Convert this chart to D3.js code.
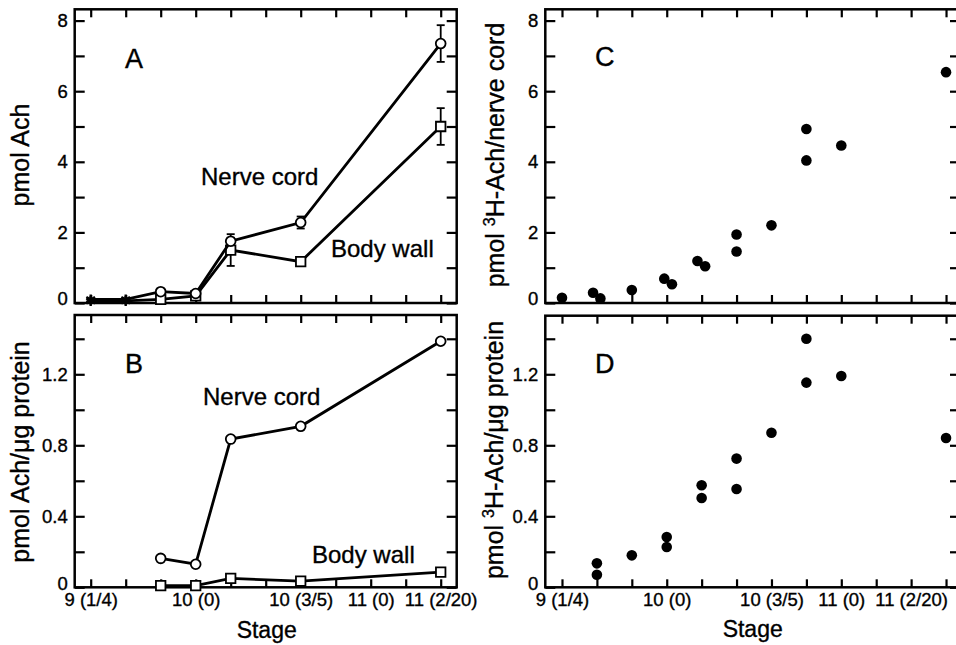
<!DOCTYPE html>
<html>
<head>
<meta charset="utf-8">
<script src="https://cdn.jsdelivr.net/npm/d3@7"></script>
<style>
  body { margin: 0; background: #fff; }
  text { font-family: "Liberation Sans", Arial, Helvetica, sans-serif; fill: #000; stroke: #000; stroke-width: 0.35px; }
</style>
</head>
<body>
<script>
// stage tick labels (tick index -> label)
const stageTickIdx = [0, 3, 6, 8, 10];
const stageTickText = ['9 (1/4)', '10 (0)', '10 (3/5)', '11 (0)', '11 (2/20)'];

// Panel A: pmol Ach (mean, error)
const stageA = [0, 1, 2, 3, 4, 6, 10];
const nerveA = [0.1, 0.1, 0.32, 0.27, 1.75, 2.28, 7.35];
const nerveAErr = [0, 0, 0, 0, 0.1, 0.17, 0.52];
const bodyA = [0.06, 0.06, 0.1, 0.2, 1.5, 1.17, 5.0];
const bodyAErr = [0, 0, 0, 0, 0.45, 0.08, 0.52];
const starCount = 2; // first two points drawn as asterisks

// Panel B: pmol Ach / ug protein
const stageB = [2, 3, 4, 6, 10];
const nerveB = [0.163, 0.13, 0.835, 0.907, 1.386];
const bodyB = [0.009, 0.009, 0.05, 0.035, 0.086];

// Panel C: pmol 3H-Ach / nerve cord
const stageC = [0, 0.89, 1.1, 2, 2.93, 3.15, 3.88, 4.1, 5, 5, 6, 7, 7, 8, 11];
const valC = [0.15, 0.29, 0.13, 0.37, 0.69, 0.53, 1.19, 1.04, 1.94, 1.46, 2.2, 4.93, 4.04, 4.46, 6.54];

// Panel D: pmol 3H-Ach / ug protein
const stageD = [1, 1, 2, 3, 3, 4, 4, 5, 5, 6, 7, 7, 8, 11];
const valD = [0.135, 0.071, 0.18, 0.283, 0.227, 0.575, 0.503, 0.725, 0.554, 0.871, 1.40, 1.153, 1.19, 0.841];

const svg = d3.select('body').append('svg')
    .attr('width', 956)
    .attr('height', 645);

// scales
const xLeft = d3.scaleLinear().domain([-0.457, 10.457]).range([74.7, 456.7]);
const xRight = d3.scaleLinear().domain([-0.478, 11.4]).range([545.3, 960]);
const yA = d3.scaleLinear().domain([0, 8.32]).range([303, 9.3]);
const yB = d3.scaleLinear().domain([0, 1.534]).range([587.3, 315]);
const yC = d3.scaleLinear().domain([0, 8.32]).range([303, 9.3]);
const yD = d3.scaleLinear().domain([0, 1.53]).range([587.3, 315.7]);

function frame(x, y, xTicks, yTicks, yFmt, showX) {
    const [x0, x1] = x.range();
    const [y0, y1] = y.range();
    const g = svg.append('g');

    g.append('g')
        .attr('transform', `translate(0,${y0})`)
        .call(d3.axisBottom(x).tickValues(xTicks).tickSizeInner(-8).tickSizeOuter(0).tickPadding(6)
            .tickFormat(i => {
                const k = stageTickIdx.indexOf(i);
                return showX && k >= 0 ? stageTickText[k] : '';
            }));
    g.append('g')
        .attr('transform', `translate(0,${y1})`)
        .call(d3.axisTop(x).tickValues(xTicks).tickSizeInner(-8).tickSizeOuter(0).tickFormat(''));
    const ya = g.append('g')
        .attr('transform', `translate(${x0},0)`)
        .call(d3.axisLeft(y).tickValues(yTicks).tickSizeInner(-10).tickSizeOuter(0).tickPadding(7)
            .tickFormat(yFmt));
    // the "0" label sits a little above the axis line, as in the original
    ya.selectAll('.tick text').filter(d => d === 0).attr('y', -4);
    g.append('g')
        .attr('transform', `translate(${x1},0)`)
        .call(d3.axisRight(y).tickValues(yTicks).tickSizeInner(-10).tickSizeOuter(0).tickFormat(''));

    g.selectAll('.domain').remove();
    g.selectAll('.tick line').attr('stroke', '#000').attr('stroke-width', 2.2);
    g.selectAll('.tick text')
        .style('font-size', '18.5px');

    g.append('rect')
        .attr('x', x0).attr('y', y1)
        .attr('width', x1 - x0).attr('height', y0 - y1)
        .attr('fill', 'none').attr('stroke', '#000').attr('stroke-width', 2.5);
    return g;
}

const fmtAch = v => (v % 2 === 0 ? d3.format('d')(v) : '');
const fmtProt = v => ([0, 0.4, 0.8, 1.2].some(t => Math.abs(t - v) < 1e-6) ? (v === 0 ? '0' : d3.format('.1f')(v)) : '');

frame(xLeft, yA, d3.range(0, 11), d3.range(0, 9), fmtAch, false);
frame(xLeft, yB, d3.range(0, 11), [0, 0.2, 0.4, 0.6, 0.8, 1.0, 1.2, 1.4], fmtProt, true);
frame(xRight, yC, d3.range(0, 12), d3.range(0, 9), fmtAch, false);
frame(xRight, yD, d3.range(0, 12), [0, 0.2, 0.4, 0.6, 0.8, 1.0, 1.2, 1.4], fmtProt, true);

// line series with markers
function series(x, y, xs, vs, errs, shape, stars) {
    const pts = xs.map((s, i) => ({ s, v: vs[i], e: errs ? errs[i] : 0, star: i < stars }));
    const g = svg.append('g');
    g.append('path')
        .datum(pts)
        .attr('fill', 'none')
        .attr('stroke', '#000')
        .attr('stroke-width', 2.8)
        .attr('d', d3.line().x(d => x(d.s)).y(d => y(d.v)));

    const eb = g.selectAll('.err').data(pts.filter(d => d.e > 0)).enter().append('g');
    eb.append('line')
        .attr('x1', d => x(d.s)).attr('x2', d => x(d.s))
        .attr('y1', d => y(d.v - d.e)).attr('y2', d => y(d.v + d.e))
        .attr('stroke', '#000').attr('stroke-width', 1.8);
    [-1, 1].forEach(sg => {
        eb.append('line')
            .attr('x1', d => x(d.s) - 4).attr('x2', d => x(d.s) + 4)
            .attr('y1', d => y(d.v + sg * d.e)).attr('y2', d => y(d.v + sg * d.e))
            .attr('stroke', '#000').attr('stroke-width', 1.8);
    });

    g.selectAll('.mk').data(pts).enter().append('path')
        .attr('transform', d => `translate(${x(d.s)},${y(d.v)})`)
        .attr('d', d => d.star
            ? d3.symbol(d3.symbolAsterisk, 70)()
            : d3.symbol(shape, shape === d3.symbolCircle ? 75 : 90)())
        .attr('fill', d => (d.star ? 'none' : '#fff'))
        .attr('stroke', '#000')
        .attr('stroke-width', d => (d.star ? 2.4 : 1.8));
}

series(xLeft, yA, stageA, bodyA, bodyAErr, d3.symbolSquare, starCount);
series(xLeft, yA, stageA, nerveA, nerveAErr, d3.symbolCircle, starCount);
series(xLeft, yB, stageB, bodyB, null, d3.symbolSquare, 0);
series(xLeft, yB, stageB, nerveB, null, d3.symbolCircle, 0);

// scatter panels
function dots(x, y, xs, vs) {
    svg.append('g').selectAll('circle')
        .data(xs.map((s, i) => ({ s, v: vs[i] })))
        .enter().append('circle')
        .attr('cx', d => x(d.s))
        .attr('cy', d => y(d.v))
        .attr('r', 5.3)
        .attr('fill', '#000');
}
dots(xRight, yC, stageC, valC);
dots(xRight, yD, stageD, valD);

// panel letters and series labels
const labels = [
    ['A', 125, 68, 27], ['B', 125, 373, 27], ['C', 595, 66, 27], ['D', 595, 373, 27],
    ['Nerve cord', 201, 185, 24], ['Body wall', 331, 257, 24],
    ['Nerve cord', 203, 405, 24], ['Body wall', 312, 563, 24]
];
svg.append('g').selectAll('text')
    .data(labels)
    .enter().append('text')
    .attr('x', d => d[1])
    .attr('y', d => d[2])
    .style('font-size', d => d[3] + 'px')
    .text(d => d[0]);

// axis titles
svg.append('text').attr('x', 266.7).attr('y', 638)
    .attr('text-anchor', 'middle').style('font-size', '23px').text('Stage');
svg.append('text').attr('x', 752.7).attr('y', 637)
    .attr('text-anchor', 'middle').style('font-size', '23px').text('Stage');

function yTitle(cx, cy, parts) {
    const t = svg.append('text')
        .attr('transform', `translate(${cx},${cy}) rotate(-90)`)
        .attr('text-anchor', 'middle')
        .style('font-size', '25px');
    parts.forEach(p => {
        const ts = t.append('tspan').text(p.t);
        if (p.sup) ts.style('font-size', '16px').attr('dy', -9);
        if (p.after) ts.attr('dy', 9);
    });
}
yTitle(29, 155, [{ t: 'pmol Ach' }]);
yTitle(29, 452, [{ t: 'pmol Ach/\u03bcg protein' }]);
yTitle(504, 155, [{ t: 'pmol ' }, { t: '3', sup: true }, { t: 'H-Ach/nerve cord', after: true }]);
yTitle(503, 450, [{ t: 'pmol ' }, { t: '3', sup: true }, { t: 'H-Ach/\u03bcg protein', after: true }]);
</script>
</body>
</html>
